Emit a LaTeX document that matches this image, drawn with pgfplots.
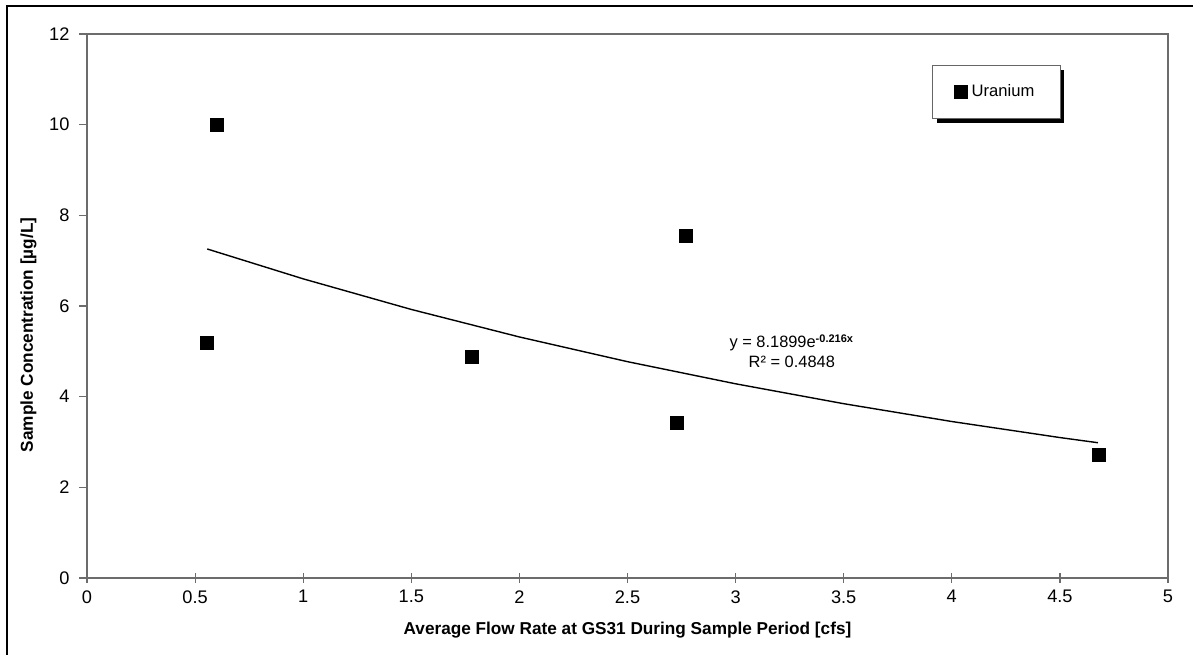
\documentclass[border=0pt]{standalone}
\usepackage{fontspec}
\setmainfont{Liberation Sans}
\usepackage{pgfplots}
\pgfplotsset{compat=1.18}
\usetikzlibrary{shadows}

\begin{document}
\begin{tikzpicture}
\begin{axis}[
    scale only axis,
    width=540.5pt, height=272pt,
    xmin=0, xmax=5, ymin=0, ymax=12,
    xtick={0,0.5,...,5}, ytick={0,2,...,12},
    axis line style={gray!85!black, line width=0.6pt},
    tick style={gray!85!black, line width=0.6pt},
    x tick style={/pgfplots/major tick length=5pt},
    y tick style={/pgfplots/major tick length=4pt},
    xtick align=center, ytick align=outside,
    xtick pos=bottom, ytick pos=left,
    /pgf/number format/assume math mode=true,
    tick label style={font=\fontsize{9.1}{10}\selectfont},
    xticklabel style={yshift=-0.5pt},
    yticklabel style={xshift=-1pt},
    xlabel={Average Flow Rate at GS31 During Sample Period [cfs]},
    ylabel={Sample Concentration [µg/L]},
    label style={font=\fontsize{8.6}{10}\selectfont\bfseries},
    xlabel style={yshift=-2.5pt},
    ylabel style={at={(ticklabel cs:0.447)}, yshift=-0.5pt},
    legend style={at={(rel axis cs:0.782,0.943)}, anchor=north west,
        draw=black!60, line width=0.5pt, inner xsep=11pt, inner ysep=7.5pt,
        font=\fontsize{8.3}{9}\selectfont,
        drop shadow={shadow xshift=2pt, shadow yshift=-2pt, fill=black, opacity=1},
        fill=white},
    legend cell align=left,
]
\addplot[only marks, mark=square*, mark size=3.2pt, black] coordinates {
    (0.556,5.18) (0.60,10.0) (1.78,4.87) (2.77,7.54) (2.73,3.42) (4.68,2.72)
};
\addlegendentry{Uranium}
% exponential trendline y = 8.1899 e^{-0.216x}, sampled by hand
\addplot[black, line width=0.7pt, forget plot] coordinates {
    (0.556,7.258) (1.0,6.599) (1.5,5.924) (2.0,5.317) (2.5,4.772)
    (3.0,4.284) (3.5,3.845) (4.0,3.452) (4.5,3.098) (4.676,2.984)
};
\node[align=center, font=\fontsize{8.2}{10}\selectfont] at (axis cs:3.26,5.0)
    {y = 8.1899e\textsuperscript{\fontsize{5.5}{5}\selectfont\bfseries -0.216x}\\R² = 0.4848};
\coordinate (o) at (rel axis cs:0,0);
\end{axis}
\useasboundingbox ([shift={(-43.5pt,-38pt)}]o) rectangle ++(596.5pt,327pt);
\draw[line width=1pt] ([shift={(-40pt,-40pt)}]o) -- ([shift={(-40pt,286pt)}]o) -- ([shift={(560pt,286pt)}]o);
\end{tikzpicture}
\end{document}
